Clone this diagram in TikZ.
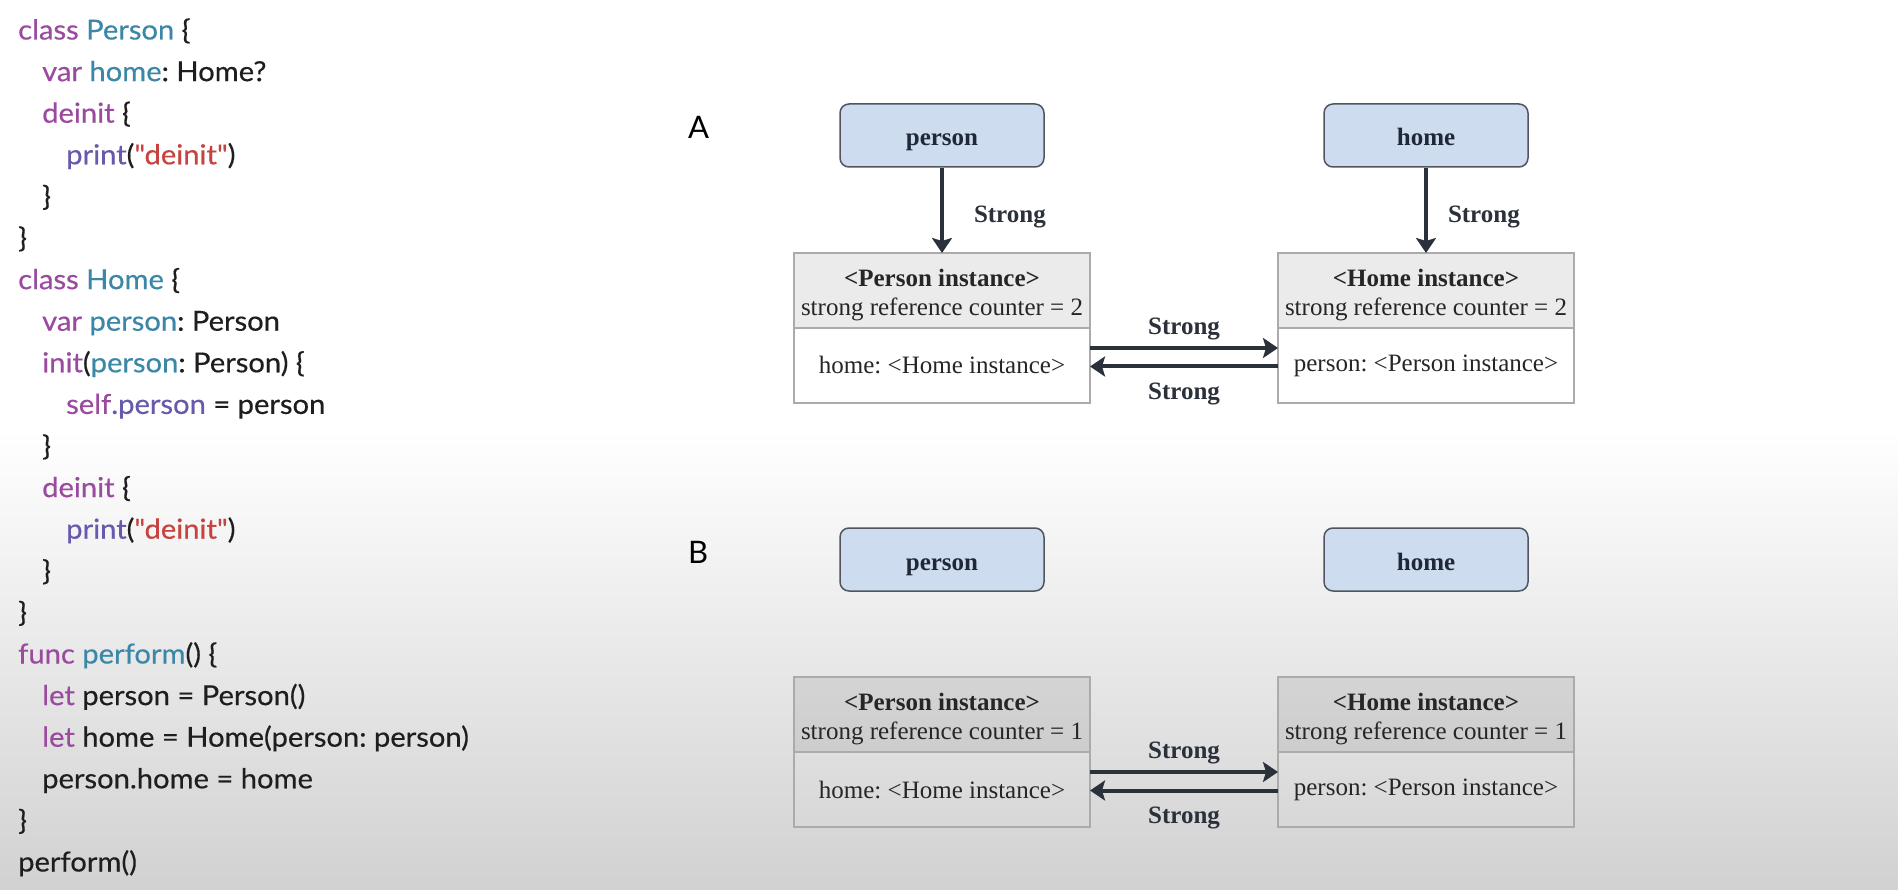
\documentclass[tikz,border=0pt]{standalone}
\usepackage{fontspec}
\setmainfont{Liberation Serif}
\newfontfamily\codefont[FakeStretch=1.06, FakeBold=0.4]{Lato}
\newfontfamily\letterfont{Lato}
\usetikzlibrary{positioning,arrows.meta}

\definecolor{kwcol}{HTML}{9A4A9F}
\definecolor{namecol}{HTML}{3B87A8}
\definecolor{callcol}{HTML}{6959AD}
\definecolor{strcol}{HTML}{C6433F}
\definecolor{plaincol}{HTML}{1E1E1E}
\definecolor{varfill}{HTML}{CEDCF0}
\definecolor{varline}{HTML}{50565F}
\definecolor{vartext}{HTML}{1E2838}
\definecolor{instline}{HTML}{ABABAB}
\definecolor{insttext}{HTML}{262626}
\definecolor{refcol}{HTML}{2B313B}

\newcommand{\kw}[1]{\textcolor{kwcol}{#1}}
\newcommand{\nm}[1]{\textcolor{namecol}{#1}}
\newcommand{\cl}[1]{\textcolor{callcol}{#1}}
\newcommand{\lit}[1]{\textcolor{strcol}{#1}}
\newcommand{\headstrut}{\rule{0pt}{27pt}}

\frenchspacing
\begin{document}
\begin{tikzpicture}[x=1pt, y=-1pt,
  codeline/.style={anchor=base west, inner sep=0pt, text=plaincol,
    font=\codefont\fontsize{27.5}{32}\selectfont\frenchspacing},
  letter/.style={anchor=base west, inner sep=0pt, text=black,
    font=\letterfont\fontsize{31}{36}\selectfont},
  varbox/.style={draw=varline, line width=1.5pt, fill=varfill, rounded corners=9pt,
    minimum width=204pt, minimum height=63pt, inner sep=0pt, text=vartext,
    text height=27pt, text depth=6pt, font=\bfseries\fontsize{25}{30}\selectfont},
  instbox/.style={draw=instline, line width=1.5pt, minimum width=296pt,
    minimum height=75pt, inner sep=0pt, outer sep=0pt, align=center,
    text=insttext, font=\fontsize{25}{29}\selectfont\frenchspacing},
  headfill/.style={fill=black, fill opacity=0.08, text opacity=1},
  refarrow/.style={draw=refcol, line width=4pt,
    -{Stealth[length=15pt, width=20pt, inset=3pt]}},
  reflabel/.style={inner sep=0pt, text=refcol, font=\bfseries\fontsize{25}{30}\selectfont}]

  \useasboundingbox (0,0) rectangle (1898,890);

  % background, darker towards the bottom
  \fill[white] (0,0) rectangle (1898,430);
  \shade[top color=white, middle color=black!9, bottom color=black!18] (0,430) rectangle (1898,890);

  % swift code
  \node[codeline] (c1) at (18,39.5) {\kw{class} \nm{Person} \{};
  \node[codeline] (c2) at (42,81.1) {\kw{var} \nm{home}: Home?};
  \node[codeline] (c3) at (42,122.7) {\kw{deinit} \{};
  \node[codeline] (c4) at (66,164.3) {\cl{print}(\lit{"deinit"})};
  \node[codeline] (c5) at (42,205.9) {\}};
  \node[codeline] (c6) at (18,247.5) {\}};
  \node[codeline] (c7) at (18,289.1) {\kw{class} \nm{Home} \{};
  \node[codeline] (c8) at (42,330.7) {\kw{var} \nm{person}: Person};
  \node[codeline] (c9) at (42,372.3) {\kw{init}(\nm{person}: Person) \{};
  \node[codeline] (c10) at (66,413.9) {\kw{self}\cl{.person} = person};
  \node[codeline] (c11) at (42,455.5) {\}};
  \node[codeline] (c12) at (42,497.1) {\kw{deinit} \{};
  \node[codeline] (c13) at (66,538.7) {\cl{print}(\lit{"deinit"})};
  \node[codeline] (c14) at (42,580.3) {\}};
  \node[codeline] (c15) at (18,621.9) {\}};
  \node[codeline] (c16) at (18,663.5) {\kw{func} \nm{perform}() \{};
  \node[codeline] (c17) at (42,705.1) {\kw{let} person = Person()};
  \node[codeline] (c18) at (42,746.7) {\kw{let} home = Home(person: person)};
  \node[codeline] (c19) at (42,788.3) {person.home = home};
  \node[codeline] (c20) at (18,829.9) {\}};
  \node[codeline] (c21) at (18,871.5) {perform()};

  % state A
  \node[letter] (labA) at (688,139) {A};
  \node[varbox] (personA) at (942,135.5) {person};
  \node[varbox] (homeA) at (1426,135.5) {home};
  \node[instbox, headfill] (perHeadA) at (942,290.5) {\headstrut\textbf{<Person instance>}\\strong reference counter = 2};
  \node[instbox, fill=white, below=0pt of perHeadA] (perBodyA) {home: <Home instance>};
  \node[instbox, headfill] (homeHeadA) at (1426,290.5) {\headstrut\textbf{<Home instance>}\\strong reference counter = 2};
  \node[instbox, fill=white, below=0pt of homeHeadA] (homeBodyA) {person: <Person instance>};

  \draw[refarrow] (personA) -- node[reflabel, pos=0.58, right=30pt] {Strong} (perHeadA);
  \draw[refarrow] (homeA) -- node[reflabel, pos=0.58, right=20pt] {Strong} (homeHeadA);
  \draw[refarrow] ([yshift=17.5pt]perBodyA.east) -- node[reflabel, above=5.5pt] {Strong} ([yshift=17.5pt]homeBodyA.west);
  \draw[refarrow] ([yshift=-1pt]homeBodyA.west) -- node[reflabel, below=14pt] {Strong} ([yshift=-1pt]perBodyA.east);

  % state B
  \node[letter] (labB) at (688,563) {B};
  \node[varbox] (personB) at (942,559.5) {person};
  \node[varbox] (homeB) at (1426,559.5) {home};
  \node[instbox, headfill] (perHeadB) at (942,714.5) {\headstrut\textbf{<Person instance>}\\strong reference counter = 1};
  \node[instbox, below=0pt of perHeadB] (perBodyB) {home: <Home instance>};
  \node[instbox, headfill] (homeHeadB) at (1426,714.5) {\headstrut\textbf{<Home instance>}\\strong reference counter = 1};
  \node[instbox, below=0pt of homeHeadB] (homeBodyB) {person: <Person instance>};

  \draw[refarrow] ([yshift=17.5pt]perBodyB.east) -- node[reflabel, above=5.5pt] {Strong} ([yshift=17.5pt]homeBodyB.west);
  \draw[refarrow] ([yshift=-1pt]homeBodyB.west) -- node[reflabel, below=14pt] {Strong} ([yshift=-1pt]perBodyB.east);
\end{tikzpicture}
\end{document}
